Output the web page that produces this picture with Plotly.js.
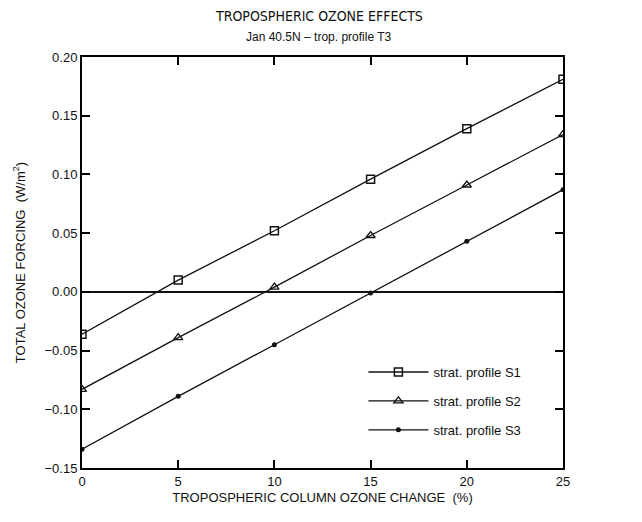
<!DOCTYPE html>
<html>
<head>
<meta charset="utf-8">
<script src="https://cdn.plot.ly/plotly-3.0.1.min.js"></script>
<style>html,body{margin:0;padding:0;background:#fff;}#chart{width:642px;height:522px;}</style>
</head>
<body>
<div id="chart"></div>
<script>
const ozoneChange = [0, 5, 10, 15, 20, 25];
const forcingS1 = [-0.036, 0.010, 0.052, 0.096, 0.139, 0.181];
const forcingS2 = [-0.083, -0.039, 0.004, 0.048, 0.091, 0.134];
const forcingS3 = [-0.134, -0.089, -0.045, -0.001, 0.043, 0.087];
const seriesNames = ['strat. profile S1', 'strat. profile S2', 'strat. profile S3'];
const xRange = [0, 25];
const yRange = [-0.15, 0.20];

const font = 'Liberation Sans, Arial, sans-serif';
const narrow = 'Liberation Sans Narrow, DejaVu Sans Condensed, Liberation Sans, sans-serif';

const traces = [
  {x: ozoneChange, y: forcingS1, name: seriesNames[0], legendgroup: 'a', mode: 'lines+markers',
   line: {color: '#111', width: 1.3},
   marker: {symbol: 'square-open', size: 8, color: '#111', line: {width: 1.5}}},
  {x: ozoneChange, y: forcingS2, name: seriesNames[1], legendgroup: 'b', mode: 'lines+markers',
   line: {color: '#111', width: 1.3},
   marker: {symbol: 'triangle-up-open', size: 8, color: '#111', line: {width: 1.3}}},
  {x: ozoneChange, y: forcingS3, name: seriesNames[2], legendgroup: 'c', mode: 'lines+markers',
   line: {color: '#111', width: 1.3},
   marker: {symbol: 'circle', size: 5, color: '#111'}}
];

const layout = {
  width: 642, height: 522,
  paper_bgcolor: '#fff', plot_bgcolor: '#fff',
  margin: {l: 82, r: 79, t: 57, b: 54},
  font: {family: font, size: 12, color: '#111'},
  showlegend: true,
  legend: {x: 0.585, y: 0.27, xanchor: 'left', yanchor: 'top',
    bgcolor: 'rgba(0,0,0,0)', font: {family: font, size: 13, color: '#111'},
    tracegroupgap: 9, itemwidth: 60},
  xaxis: {
    range: xRange, dtick: 5, tick0: 0,
    ticks: 'inside', ticklen: 8, tickwidth: 1.5, tickcolor: 'black',
    showline: true, linewidth: 2, linecolor: 'black', mirror: 'ticks',
    showgrid: false, zeroline: false,
    tickfont: {family: font, size: 13, color: '#111'},
    title: {text: 'TROPOSPHERIC COLUMN OZONE CHANGE  (%)', standoff: 5,
      font: {family: font, size: 13, color: '#111'}}
  },
  yaxis: {
    range: yRange, dtick: 0.05, tick0: 0, tickformat: '.2f',
    ticks: 'inside', ticklen: 8, tickwidth: 1.5, tickcolor: 'black',
    showline: true, linewidth: 2, linecolor: 'black', mirror: 'ticks',
    showgrid: false, zeroline: true, zerolinecolor: '#111', zerolinewidth: 1.6,
    tickfont: {family: font, size: 13, color: '#111'},
    title: {text: 'TOTAL OZONE FORCING  (W/m<sup>2</sup>)', standoff: 16,
      font: {family: font, size: 13, color: '#111'}}
  },
  annotations: [
    {text: 'TROPOSPHERIC OZONE EFFECTS', xref: 'paper', yref: 'paper', x: 0.493, y: 1,
     yshift: 41, xanchor: 'center', yanchor: 'middle', showarrow: false,
     font: {family: narrow, size: 14, color: '#111'}},
    {text: 'Jan 40.5N \u2013 trop. profile T3', xref: 'paper', yref: 'paper', x: 0.493, y: 1,
     yshift: 20, xanchor: 'center', yanchor: 'middle', showarrow: false,
     font: {family: font, size: 12, color: '#111'}}
  ]
};

Plotly.newPlot('chart', traces, layout, {displayModeBar: false});
</script>
</body>
</html>
